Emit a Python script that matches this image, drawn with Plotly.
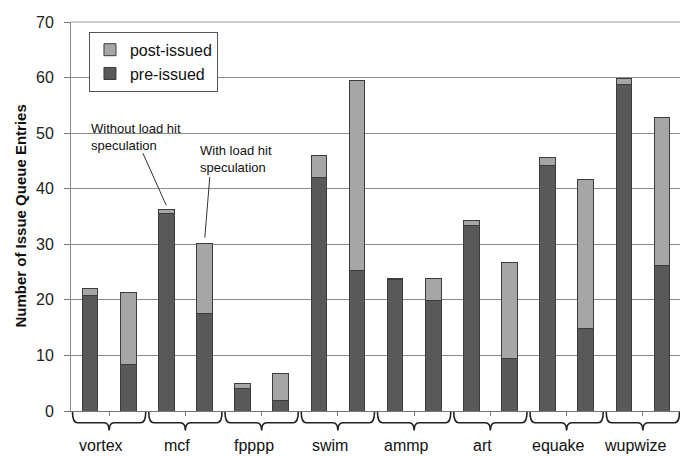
import plotly.graph_objects as go

categories = ["vortex", "mcf", "fpppp", "swim", "ammp", "art", "equake", "wupwize"]
# Without load hit speculation (left bar of each pair)
pre_without = [20.8, 35.6, 4.1, 42.1, 23.6, 33.3, 44.1, 58.8]
post_without = [1.3, 0.6, 0.8, 3.8, 0.3, 0.9, 1.5, 1.0]
# With load hit speculation (right bar of each pair)
pre_with = [8.4, 17.5, 1.9, 25.3, 19.9, 9.4, 14.9, 26.2]
post_with = [13.0, 12.7, 4.9, 34.1, 4.0, 17.4, 26.8, 26.6]
y_ticks = [0, 10, 20, 30, 40, 50, 60, 70]

# page body has an 8px margin; size the figure so it fits the 688x456 window
W, H = 680, 448
ML, MR, MT, MB = 63, 6, 6, 45
PW = W - ML - MR
PH = H - MT - MB
n = len(categories)
NX = 2 * n

xs, pre, post = [], [], []
for g in range(n):
    xs += [2 * g, 2 * g + 1]
    pre += [pre_without[g], pre_with[g]]
    post += [post_without[g], post_with[g]]

DARK = "#595959"
LIGHT = "#a6a6a6"
EDGE = "#3c3c3c"
FONT = "Arial, Liberation Sans, sans-serif"

fig = go.Figure()
fig.add_trace(go.Bar(x=xs, y=pre, name="pre-issued", width=0.41,
                     marker=dict(color=DARK, line=dict(color=EDGE, width=1))))
fig.add_trace(go.Bar(x=xs, y=post, name="post-issued", width=0.41,
                     marker=dict(color=LIGHT, line=dict(color=EDGE, width=1))))

def px_x(v):  # data x -> paper x
    return (v + 0.5) / NX

shapes = []
# top border of the plot area (at the 70 gridline)
shapes.append(dict(type="line", xref="paper", yref="paper", x0=0, x1=1, y0=1, y1=1,
                   line=dict(color="#999999", width=1)))
# braces under each group
dx = 5 / PW
y_top = -1 / PH
y_mid = -12 / PH
y_tip = -20 / PH
for g in range(n):
    x0 = px_x(2 * g - 0.5) + 1.5 / PW
    x1 = px_x(2 * g + 1.5) - 1.5 / PW
    xc = px_x(2 * g + 0.5)
    path = (f"M{x0},{y_top} Q{x0},{y_mid} {x0+dx},{y_mid} L{xc-dx},{y_mid} "
            f"Q{xc},{y_mid} {xc},{y_tip} Q{xc},{y_mid} {xc+dx},{y_mid} "
            f"L{x1-dx},{y_mid} Q{x1},{y_mid} {x1},{y_top}")
    shapes.append(dict(type="path", path=path, xref="paper", yref="paper",
                       line=dict(color="#222222", width=1.6)))

# leader lines for callouts
shapes.append(dict(type="line", xref="x", yref="y", x0=1.385, y0=46.4, x1=2.0, y1=37.0,
                   line=dict(color="#333333", width=1)))
shapes.append(dict(type="line", xref="x", yref="y", x0=3.14, y0=42.1, x1=3.01, y1=31.2,
                   line=dict(color="#333333", width=1)))

annotations = []
for g, name in enumerate(categories):
    annotations.append(dict(x=2 * g + 0.5, y=-35 / PH, xref="x", yref="paper",
                            text=name, showarrow=False, xshift=-8,
                            xanchor="center", yanchor="middle",
                            font=dict(size=16, color="#111111", family=FONT)))
annotations.append(dict(x=-0.03, y=52.6, xref="x", yref="y", xanchor="left", yanchor="top",
                        text="Without load hit<br>speculation", showarrow=False, align="left",
                        font=dict(size=13, color="#111111", family=FONT)))
annotations.append(dict(x=2.82, y=48.6, xref="x", yref="y", xanchor="left", yanchor="top",
                        text="With load hit<br>speculation", showarrow=False, align="left",
                        font=dict(size=13, color="#111111", family=FONT)))
annotations.append(dict(x=(12 - ML) / PW, y=0.5, xref="paper", yref="paper",
                        text="<b>Number of Issue Queue Entries</b>", textangle=-90,
                        showarrow=False, xanchor="center", yanchor="middle",
                        font=dict(size=15, color="#111111", family=FONT)))

fig.update_layout(
    width=W, height=H,
    margin=dict(l=ML, r=MR, t=MT, b=MB, pad=0),
    barmode="stack",
    plot_bgcolor="white", paper_bgcolor="white",
    font=dict(family=FONT, size=16, color="#111111"),
    showlegend=True,
    legend=dict(x=18 / PW, y=(PH - 10) / PH, xanchor="left", yanchor="top",
                traceorder="reversed", bgcolor="white", bordercolor="#555555", borderwidth=1,
                font=dict(size=16, family=FONT, color="#111111"),
                itemwidth=30, tracegroupgap=0),
    shapes=shapes,
    annotations=annotations,
    xaxis=dict(range=[-0.5, NX - 0.5], tickvals=[2 * g + 0.5 for g in range(n)],
               ticktext=["" for _ in range(n)], ticks="outside", ticklen=4,
               tickcolor="#777777", showgrid=False, zeroline=False,
               showline=True, linecolor="#777777", linewidth=1, fixedrange=True),
    yaxis=dict(range=[0, 70], tickvals=y_ticks, ticks="outside", ticklen=6,
               tickcolor="#777777", showgrid=True, gridcolor="#8c8c8c", gridwidth=1,
               zeroline=False, showline=True, linecolor="#888888", linewidth=1,
               mirror=True, tickfont=dict(size=16, color="#222222", family=FONT),
               ticklabelstandoff=7, ticklabeloverflow="allow"),
)

fig.write_html("out.html")
